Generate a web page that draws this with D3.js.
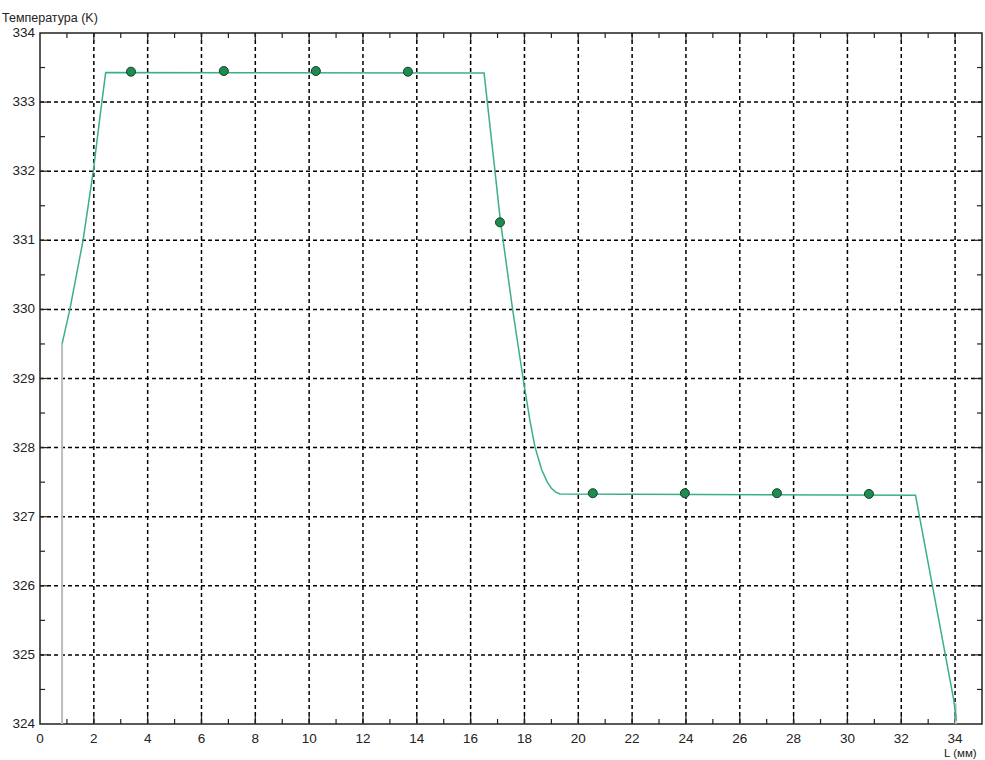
<!DOCTYPE html>
<html>
<head>
<meta charset="utf-8">
<script src="https://cdn.jsdelivr.net/npm/d3@7/dist/d3.min.js"></script>
<style>
  html, body { margin: 0; padding: 0; background: #fff; }
  svg { display: block; }
  text { font-family: "Liberation Sans", Arial, sans-serif; fill: #222; }
</style>
</head>
<body>
<script>
// Temperature profile along the sample length
const profileL = [0.82, 1.11, 1.6, 1.98, 2.2, 2.44, 16.5, 16.9, 17.1, 17.56, 17.95, 18.2, 18.39, 18.64, 18.85, 19.0, 19.15, 19.32, 32.53, 33.95, 34.05];
const profileT = [329.5, 330.0, 331.0, 332.0, 332.7, 333.43, 333.42, 332.02, 331.3, 330.0, 329.0, 328.4, 328.01, 327.68, 327.5, 327.41, 327.36, 327.33, 327.31, 324.35, 324.05];

// Measured points
const pointL = [3.38, 6.83, 10.25, 13.67, 17.09, 20.54, 23.96, 27.38, 30.8];
const pointT = [333.44, 333.45, 333.45, 333.44, 331.26, 327.34, 327.34, 327.34, 327.33];

// Boundary verticals (grey)
const edgeL = [0.82, 34.02];
const edgeTop = [329.5, 324.3];

// Axis ticks
const xMajor = [0, 2, 4, 6, 8, 10, 12, 14, 16, 18, 20, 22, 24, 26, 28, 30, 32, 34];
const xMinor = [1, 3, 5, 7, 9, 11, 13, 15, 17, 19, 21, 23, 25, 27, 29, 31, 33];
const yMajor = [324, 325, 326, 327, 328, 329, 330, 331, 332, 333, 334];
const yMinor = [324.5, 325.5, 326.5, 327.5, 328.5, 329.5, 330.5, 331.5, 332.5, 333.5];

const W = 985, H = 760;
const padL = 40, padR = 982, padT = 33, padB = 724;

const x = d3.scaleLinear().domain([0, 35]).range([padL, padR]);
const y = d3.scaleLinear().domain([324, 334]).range([padB, padT]);

const svg = d3.select("body").append("svg").attr("width", W).attr("height", H);

// Dashed grid
const grid = svg.append("g").attr("stroke", "#000").attr("stroke-width", 1.5).attr("stroke-dasharray", "4,3");
grid.selectAll("line.v").data(xMajor.filter(d => d > 0)).enter().append("line")
  .attr("x1", d => x(d)).attr("x2", d => x(d)).attr("y1", padT).attr("y2", padB);
grid.selectAll("line.h").data(yMajor.filter(d => d > 324 && d < 334)).enter().append("line")
  .attr("x1", padL).attr("x2", padR).attr("y1", d => y(d)).attr("y2", d => y(d));

// Inward ticks on all four sides
const ticks = svg.append("g").attr("stroke", "#222").attr("stroke-width", 1.2);
const majLen = 8, minLen = 5;
xMajor.filter(d => d > 0).forEach(d => {
  ticks.append("line").attr("x1", x(d)).attr("x2", x(d)).attr("y1", padB).attr("y2", padB - majLen);
  ticks.append("line").attr("x1", x(d)).attr("x2", x(d)).attr("y1", padT).attr("y2", padT + majLen);
});
xMinor.forEach(d => {
  ticks.append("line").attr("x1", x(d)).attr("x2", x(d)).attr("y1", padB).attr("y2", padB - minLen);
  ticks.append("line").attr("x1", x(d)).attr("x2", x(d)).attr("y1", padT).attr("y2", padT + minLen);
});
yMajor.filter(d => d > 324 && d < 334).forEach(d => {
  ticks.append("line").attr("x1", padL).attr("x2", padL + majLen).attr("y1", y(d)).attr("y2", y(d));
  ticks.append("line").attr("x1", padR).attr("x2", padR - majLen).attr("y1", y(d)).attr("y2", y(d));
});
yMinor.forEach(d => {
  ticks.append("line").attr("x1", padL).attr("x2", padL + minLen).attr("y1", y(d)).attr("y2", y(d));
  ticks.append("line").attr("x1", padR).attr("x2", padR - minLen).attr("y1", y(d)).attr("y2", y(d));
});

// Frame
svg.append("rect").attr("x", padL).attr("y", padT).attr("width", padR - padL).attr("height", padB - padT)
  .attr("fill", "none").attr("stroke", "#222").attr("stroke-width", 1.5);

// Tick labels
svg.append("g").selectAll("text").data(xMajor).enter().append("text")
  .attr("x", d => x(d)).attr("y", padB + 19).attr("text-anchor", "middle")
  .attr("font-size", 13.5).text(d => d);
svg.append("g").selectAll("text").data(yMajor).enter().append("text")
  .attr("x", padL - 5).attr("y", d => y(d) + 4).attr("text-anchor", "end")
  .attr("font-size", 13.5).text(d => d);

// Axis titles
svg.append("text").attr("x", 2).attr("y", 22).attr("font-size", 12.5).text("Температура (K)");
svg.append("text").attr("x", 944).attr("y", 757).attr("font-size", 11.5).text("L (мм)");

// Grey boundary verticals
svg.append("g").selectAll("line").data(edgeL).enter().append("line")
  .attr("x1", d => x(d)).attr("x2", d => x(d))
  .attr("y1", y(324)).attr("y2", (d, i) => y(edgeTop[i]))
  .attr("stroke", "#bdbdbd").attr("stroke-width", 2);

// Profile curve
const profile = profileL.map((l, i) => [l, profileT[i]]);
svg.append("path").datum(profile)
  .attr("fill", "none").attr("stroke", "#3caf88").attr("stroke-width", 1.5)
  .attr("d", d3.line().x(d => x(d[0])).y(d => y(d[1])));

// Measured points
svg.append("g").selectAll("circle").data(pointL.map((l, i) => [l, pointT[i]])).enter().append("circle")
  .attr("cx", d => x(d[0])).attr("cy", d => y(d[1])).attr("r", 4.5)
  .attr("fill", "#1e8c50").attr("stroke", "#163f28").attr("stroke-width", 1);
</script>
</body>
</html>
